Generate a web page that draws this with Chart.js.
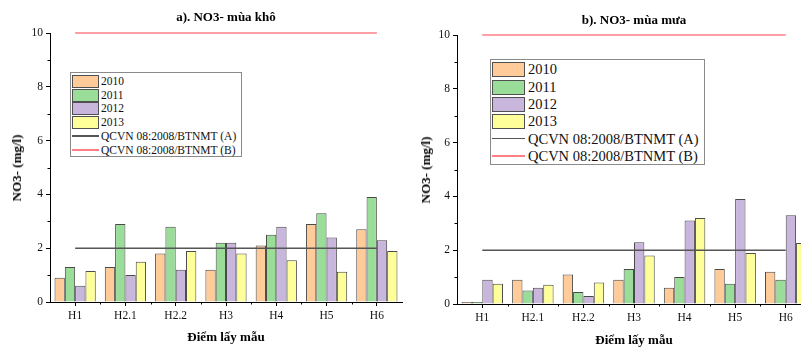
<!DOCTYPE html>
<html>
<head>
<meta charset="utf-8">
<script src="https://cdn.jsdelivr.net/npm/chart.js@4"></script>
<style>
html,body{margin:0;padding:0;background:#fff;overflow:hidden;width:801px;height:347px;}
body{position:relative;font-family:"Liberation Serif","Times New Roman",serif;}
.cw{position:absolute;top:0;height:347px;}
.txt{position:absolute;white-space:nowrap;color:#000;font-weight:bold;}
.ttl{font-size:13px;transform:translate(-50%,-50%);}
.ytl{font-size:13px;transform:translate(-50%,-50%) rotate(-90deg);}
.leg{position:absolute;border:1px solid #8a8a8a;background:#fff;box-sizing:border-box;}
.sw{position:absolute;box-sizing:border-box;border:1px solid #505050;}
.ln{position:absolute;}
.lt{position:absolute;white-space:nowrap;transform:translateY(-50%);color:#111;}
</style>
</head>
<body>
<div class="cw" style="left:0;width:410px;"><canvas id="c1" width="410" height="347"></canvas></div>
<div class="cw" style="left:400px;width:420px;"><canvas id="c2" width="420" height="347"></canvas></div>

<div class="txt ttl" style="left:226px;top:17px;">a). NO3- mùa khô</div>
<div class="txt ttl" style="left:634px;top:20px;">b). NO3- mùa mưa</div>
<div class="txt ytl" style="left:17px;top:168px;">NO3- (mg/l)</div>
<div class="txt ytl" style="left:426px;top:170px;">NO3- (mg/l)</div>
<div class="txt ttl" style="left:226px;top:337px;">Điểm lấy mẫu</div>
<div class="txt ttl" style="left:634px;top:340px;">Điểm lấy mẫu</div>

<div id="leg1" class="leg" style="left:70px;top:72px;width:172px;height:85px;"></div>
<div id="leg2" class="leg" style="left:490px;top:59px;width:215px;height:106px;"></div>

<script>
// ---- data ----
const categories = ["H1","H2.1","H2.2","H3","H4","H5","H6"];
const years = ["2010","2011","2012","2013"];
const lineLabels = ["QCVN 08:2008/BTNMT (A)","QCVN 08:2008/BTNMT (B)"];
const limitA = 2;
const limitB = 10;

// dry season (mùa khô)
const dry2010 = [0.9, 1.3, 1.8, 1.2, 2.1, 2.9, 2.7];
const dry2011 = [1.3, 2.9, 2.8, 2.2, 2.5, 3.3, 3.9];
const dry2012 = [0.6, 1.0, 1.2, 2.2, 2.8, 2.4, 2.3];
const dry2013 = [1.15, 1.5, 1.9, 1.8, 1.55, 1.12, 1.9];

// rainy season (mùa mưa)
const wet2010 = [0.04, 0.9, 1.1, 0.9, 0.6, 1.3, 1.2];
const wet2011 = [0.05, 0.5, 0.45, 1.3, 1.0, 0.75, 0.9];
const wet2012 = [0.9, 0.6, 0.3, 2.3, 3.1, 3.9, 3.3];
const wet2013 = [0.75, 0.72, 0.8, 1.8, 3.2, 1.9, 2.27];

const yTicks = [0, 2, 4, 6, 8, 10];

// ---- styles ----
const barColors = ["#FFCC99", "#99DD99", "#C9B6DD", "#FFFF99"];
const lineColors = ["#555555", "#FF7F85"];

function buildDatasets(series) {
  const ds = series.map((vals, i) => ({
    type: 'bar',
    label: years[i],
    data: vals,
    backgroundColor: barColors[i],
    borderColor: '#4a4a4a',
    borderWidth: 1,
    minBarLength: 2,
    categoryPercentage: 0.82,
    barPercentage: 1.0,
    order: 2
  }));
  [limitA, limitB].forEach((v, i) => {
    ds.push({
      type: 'line',
      label: lineLabels[i],
      data: categories.map(() => v),
      borderColor: lineColors[i],
      borderWidth: 1.5,
      pointRadius: 0,
      fill: false,
      clip: false,
      order: 0
    });
  });
  return ds;
}

const minorTicks = {
  id: 'minorTicks',
  afterDraw(chart) {
    const ctx = chart.ctx;
    const x = chart.scales.x, y = chart.scales.y;
    ctx.save();
    ctx.strokeStyle = '#000';
    ctx.lineWidth = 1;
    ctx.beginPath();
    for (let i = 0; i < yTicks.length - 1; i++) {
      const v = (yTicks[i] + yTicks[i + 1]) / 2;
      const py = Math.round(y.getPixelForValue(v)) + 0.5;
      ctx.moveTo(x.left, py); ctx.lineTo(x.left - 2.5, py);
    }
    for (let i = 0; i < categories.length - 1; i++) {
      const px = Math.round((x.getPixelForValue(i) + x.getPixelForValue(i + 1)) / 2) + 0.5;
      ctx.moveTo(px, y.bottom); ctx.lineTo(px, y.bottom + 2.5);
    }
    ctx.stroke();
    ctx.restore();
  }
};

function makeChart(id, series, yWidth, rightPad, topPad, xHeight, fontSize) {
  return new Chart(document.getElementById(id), {
    data: { labels: categories, datasets: buildDatasets(series) },
    options: {
      responsive: false,
      animation: false,
      events: [],
      layout: { padding: { top: topPad, right: rightPad, left: 0, bottom: 0 } },
      plugins: { legend: { display: false }, title: { display: false }, tooltip: { enabled: false } },
      scales: {
        x: {
          type: 'category',
          offset: true,
          grid: { display: true, drawOnChartArea: false, drawTicks: true, tickLength: 4, color: '#000', offset: false },
          border: { display: true, color: '#000', width: 1 },
          ticks: { color: '#111', font: { family: 'Liberation Serif', size: fontSize }, padding: 3, maxRotation: 0 },
          afterFit(s) { s.height = xHeight; }
        },
        y: {
          min: 0, max: 10,
          afterBuildTicks(s) { s.ticks = yTicks.map(v => ({ value: v })); },
          grid: { display: true, drawOnChartArea: false, drawTicks: true, tickLength: 4, color: '#000' },
          border: { display: true, color: '#000', width: 1 },
          ticks: { color: '#111', font: { family: 'Liberation Serif', size: fontSize }, padding: 3 },
          afterFit(s) { s.width = yWidth; }
        }
      }
    },
    plugins: [minorTicks]
  });
}

makeChart('c1', [dry2010, dry2011, dry2012, dry2013], 50, 8, 33, 45, 11.5);
makeChart('c2', [wet2010, wet2011, wet2012, wet2013], 57, 9, 35, 43, 11.5);

// ---- HTML legends ----
function buildLegend(elId, opt) {
  const el = document.getElementById(elId);
  const labels = years.concat(lineLabels);
  labels.forEach((lab, i) => {
    const cy = opt.rows[i];
    if (i < years.length) {
      const sw = document.createElement('div');
      sw.className = 'sw';
      sw.style.left = opt.swLeft + 'px';
      sw.style.width = opt.swW + 'px';
      sw.style.height = opt.swH + 'px';
      sw.style.top = (cy - opt.swH / 2) + 'px';
      sw.style.background = barColors[i];
      el.appendChild(sw);
    } else {
      const ln = document.createElement('div');
      ln.className = 'ln';
      ln.style.left = opt.swLeft + 'px';
      ln.style.width = opt.swW + 'px';
      ln.style.height = '1.5px';
      ln.style.top = (cy - 0.75) + 'px';
      ln.style.background = lineColors[i - years.length];
      el.appendChild(ln);
    }
    const t = document.createElement('div');
    t.className = 'lt';
    t.textContent = lab;
    t.style.left = opt.txtLeft + 'px';
    t.style.top = cy + 'px';
    t.style.fontSize = opt.fs + 'px';
    el.appendChild(t);
  });
}
buildLegend('leg1', { rows: [8, 22, 35, 49, 63, 77], swLeft: 1, swW: 27, swH: 13, txtLeft: 30, fs: 11.5 });
buildLegend('leg2', { rows: [9, 27, 44, 61, 78.5, 96], swLeft: 1, swW: 33, swH: 15, txtLeft: 37, fs: 14.5 });
</script>
</body>
</html>
